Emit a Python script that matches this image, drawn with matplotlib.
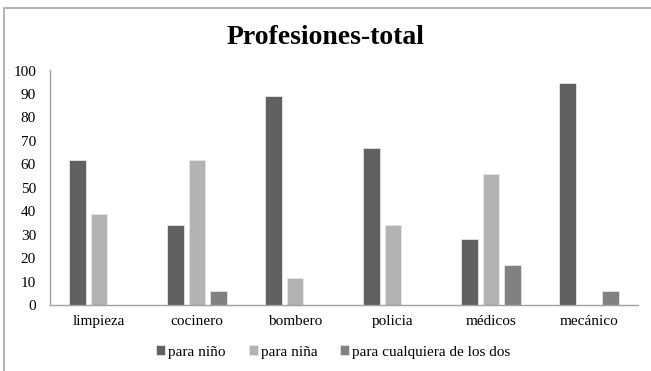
import matplotlib
matplotlib.use('Agg')
import matplotlib.pyplot as plt
import numpy as np
from matplotlib.patches import Rectangle

plt.rcParams['font.family'] = ['Liberation Serif', 'DejaVu Serif']

categorias = ['limpieza', 'cocinero', 'bombero', 'policia', 'médicos', 'mecánico']
para_nino = [62, 34, 89, 67, 28, 94.5]
para_nina = [39, 62, 11.5, 34, 56, 0]
para_ambos = [0, 6, 0, 0, 17, 6]
series = ['para niño', 'para niña', 'para cualquiera de los dos']
colores = ['#616161', '#b3b3b3', '#818181']

fig = plt.figure(figsize=(6.51, 3.71), dpi=100)
fig.patches.append(Rectangle((4 / 651, -0.1), 1.2, 1 - 8 / 371 + 0.1,
                             transform=fig.transFigure, fill=False,
                             edgecolor='#a6a6a6', linewidth=1.2))
ax = fig.add_axes([50 / 651, 1 - 305 / 371, 588 / 651, (305 - 70.5) / 371])

x = np.arange(len(categorias))
ancho = 0.17
paso = 0.22
for i, (vals, nombre) in enumerate(zip([para_nino, para_nina, para_ambos], series)):
    ax.bar(x + (i - 1) * paso, vals, ancho, color=colores[i], label=nombre,
           edgecolor='#e6e6e6', linewidth=0.6)

ax.set_xlim(-0.5, len(categorias) - 0.5)
ax.set_ylim(0, 100)
ax.set_yticks(range(0, 101, 10))
ax.set_xticks(x)
ax.set_xticklabels(categorias)
ax.tick_params(length=0, labelsize=11, pad=7)
ax.tick_params(axis='y', pad=10)
for s in ['top', 'right']:
    ax.spines[s].set_visible(False)
for s in ['left', 'bottom']:
    ax.spines[s].set_color('#a0a0a0')
    ax.spines[s].set_linewidth(1.0)

fig.suptitle('Profesiones-total', fontsize=20, fontweight='bold', y=1 - 38 / 371, va='center')
fig.legend(loc='center', bbox_to_anchor=(0.512, 1 - 352 / 371), ncol=3, frameon=False,
           fontsize=11, handlelength=0.6, handleheight=0.6, handletextpad=0.2,
           columnspacing=1.5)

fig.savefig('out.png', dpi=100)
